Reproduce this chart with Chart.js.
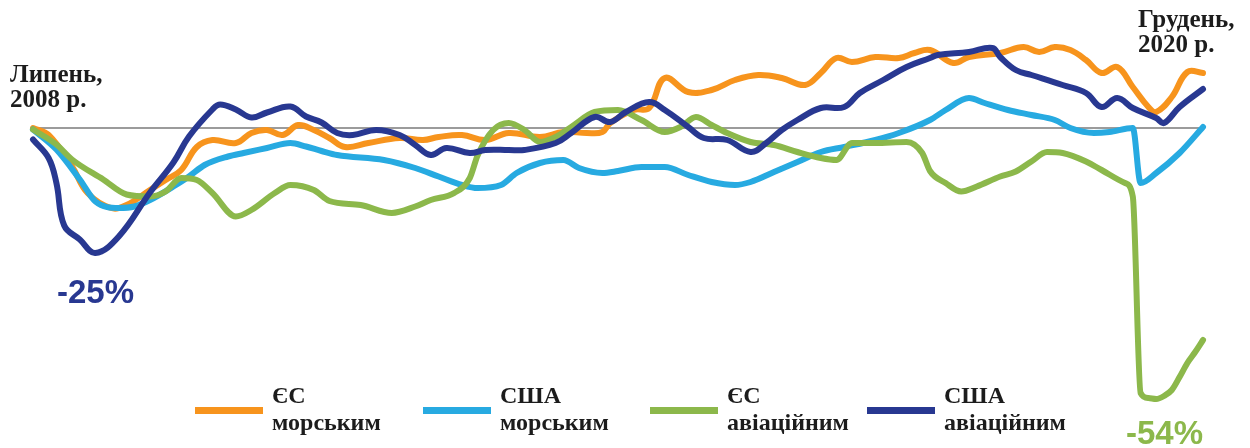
<!DOCTYPE html>
<html lang="uk">
<head>
<meta charset="utf-8">
<title>Морські та авіаційні перевезення, ЄС і США</title>
<script src="https://cdn.jsdelivr.net/npm/chart.js@4.4.1/dist/chart.umd.min.js"></script>
<style>
  html, body { margin: 0; padding: 0; background: #ffffff; }
  #wrap { width: 1250px; height: 448px; position: relative; }
</style>
</head>
<body>
<div id="wrap"><canvas id="chart" width="1250" height="448"></canvas></div>
<script>
// Month index counted from July 2008 (0) to December 2020 (150); values in % change.
const euSeaMonths = [0,2,5,7,10,12,15,17,19,21,23,26,28,30,32,34,36,38,40,43,47,50,52,55,58,61,65,68,71,73,74,77,79,81,84,87,90,93,96,99,101,103,105,108,111,113,115,118,120,124,127,129,131,133,135,137,139,141,143,144,146,148,150];
const euSeaValues = [0,-1.4,-7.7,-13,-16,-15.4,-12.4,-10.4,-8.4,-3.8,-2.4,-3,-1,-0.4,-1.4,0.6,-0.4,-2,-3.8,-3,-2,-2.4,-1.8,-1.4,-2.4,-1,-1.8,-0.8,-1,-0.8,1,3.6,4,10,7.2,7.6,9.6,10.6,10,8.6,11,14,13.2,14.2,14,15,15.6,13,14.2,15,16.2,15.2,16.2,15.6,13.6,11,12.2,8.2,4.2,3.2,6.2,11.2,11];

const usSeaMonths = [0,3,6,8,11,13,15,18,20,22,25,27,30,33,35,37,39,45,49,52,55,57,60,62,65,68,70,73,75,78,81,84,87,90,92,95,98,101,104,108,111,115,117,120,122,125,128,131,133,136,138,141,142,144,147,150];
const usSeaValues = [-0.3,-4.3,-10.3,-14.7,-16,-15.7,-14.4,-11.7,-9.7,-7.4,-5.7,-5,-4,-3,-3.7,-4.6,-5.4,-6.4,-8,-9.7,-11.4,-12,-11.4,-9,-7,-6.4,-8,-9,-8.6,-7.8,-7.8,-9.4,-10.8,-11.4,-10.8,-8.8,-6.8,-4.8,-3.8,-2.4,-1,1.6,3.6,6,5,3.6,2.6,1.6,0,-1,-0.8,0,-11,-9,-5,0.2];

const euAirMonths = [0,3,5,9,12,15,17,19,21,23,26,28,31,33,36,38,42,46,49,51,54,56,57,59,61,63,65,67,69,72,75,78,81,83,85,87,89,92,95,98,101,103,105,108,112,114,115,117,119,121,124,126,128,130,132,135,137,140,141,142,143,144,145,146,147,148,149,150];
const euAirValues = [-0.3,-3.3,-6.3,-10.3,-13.3,-13.7,-12.7,-10,-10.4,-13,-17.7,-16.4,-13,-11.4,-12.4,-14.6,-15.4,-17,-15.7,-14.4,-13,-10,-5.5,-0.4,1,-0.4,-2.8,-1.8,0.2,3.2,3.6,1.6,-0.8,0.2,2.2,0.6,-1,-2.8,-3.4,-4.8,-6,-6.4,-3,-3,-2.8,-5,-8.6,-11,-12.7,-11.7,-9.7,-8.7,-6.7,-4.8,-5,-6.7,-8.4,-11,-13.7,-53,-54,-54.2,-53.6,-52.4,-49.8,-47,-44.8,-42.4];

const usAirMonths = [0,2,3,4,6,8,11,15,18,20,23,24,26,28,30,33,35,37,39,41,44,47,49,51,53,56,58,61,63,67,69,72,74,76,79,81,84,86,89,92,94,96,98,101,104,106,109,112,115,116,120,123,124,126,128,132,135,137,139,141,144,145,147,150];
const usAirValues = [-2.3,-6,-11,-19.5,-22.3,-25,-21.7,-12.9,-6.9,-1.7,3.7,4.7,3.7,2.1,3.1,4.3,2.3,1.1,-1,-1.4,-0.4,-1.4,-3.4,-5.4,-4,-5,-4.4,-4.4,-4.4,-3,-1,2.2,1.2,3.2,5.2,3.6,0.2,-2,-2.4,-4.8,-3,-0.4,1.6,4,4.2,7,9.6,12.2,14,14.6,15.2,16,14.2,11.6,10.6,8.6,7,4.2,6,4,2,1,4.2,7.8];

const baselineMonths = [0, 150];
const baselineValues = [0, 0];

const seriesNames = ['ЄС морським', 'США морським', 'ЄС авіаційним', 'США авіаційним'];
const legendLines = [['ЄС', 'морським'], ['США', 'морським'], ['ЄС', 'авіаційним'], ['США', 'авіаційним']];
const startLabel = ['Липень,', '2008 р.'];
const endLabel = ['Грудень,', '2020 р.'];
const minLabels = ['-25%', '-54%'];

const ORANGE = '#f7941d', LIGHT_BLUE = '#27aae1', GREEN = '#8cb84b', NAVY = '#283891';

const toPoints = (xs, ys) => xs.map((x, i) => ({ x, y: ys[i] }));

// Series with abrupt breaks keep monotone curves so they do not overshoot.
const lineSet = (label, xs, ys, color, order, monotone) => ({
  label,
  data: toPoints(xs, ys),
  borderColor: color,
  backgroundColor: color,
  borderWidth: 6,
  pointRadius: 0,
  tension: 0.4,
  cubicInterpolationMode: monotone ? 'monotone' : 'default',
  borderCapStyle: 'round',
  borderJoinStyle: 'round',
  clip: false,
  order
});

// Annotations and the legend are painted straight onto the canvas.
const annotations = {
  id: 'annotations',
  afterDraw(chart) {
    const ctx = chart.ctx;
    ctx.save();
    ctx.textBaseline = 'alphabetic';
    ctx.textAlign = 'left';

    ctx.fillStyle = '#1c1c1c';
    ctx.font = 'bold 25px "Liberation Serif", "Times New Roman", serif';
    ctx.fillText(startLabel[0], 10, 82);
    ctx.fillText(startLabel[1], 10, 107);
    ctx.fillText(endLabel[0], 1138, 27);
    ctx.fillText(endLabel[1], 1138, 52);

    ctx.font = 'bold 33px "Liberation Sans", Arial, sans-serif';
    ctx.fillStyle = NAVY;
    ctx.fillText(minLabels[0], 57, 303);
    ctx.fillStyle = GREEN;
    ctx.fillText(minLabels[1], 1126, 444);

    const colors = [ORANGE, LIGHT_BLUE, GREEN, NAVY];
    const starts = [195, 423, 650, 867];
    legendLines.forEach((lines, i) => {
      const x0 = starts[i];
      ctx.fillStyle = colors[i];
      ctx.fillRect(x0, 407, 68, 7);
      ctx.fillStyle = '#1c1c1c';
      ctx.font = 'bold 24px "Liberation Serif", "Times New Roman", serif';
      ctx.fillText(lines[0], x0 + 77, 403);
      ctx.fillText(lines[1], x0 + 77, 430);
    });
    ctx.restore();
  }
};

new Chart(document.getElementById('chart'), {
  type: 'line',
  data: {
    datasets: [
      lineSet(seriesNames[3], usAirMonths, usAirValues, NAVY, 1, false),
      lineSet(seriesNames[2], euAirMonths, euAirValues, GREEN, 2, true),
      lineSet(seriesNames[1], usSeaMonths, usSeaValues, LIGHT_BLUE, 3, true),
      lineSet(seriesNames[0], euSeaMonths, euSeaValues, ORANGE, 4, false),
      {
        label: 'baseline',
        data: toPoints(baselineMonths, baselineValues),
        borderColor: '#9b9b9b',
        borderWidth: 2,
        pointRadius: 0,
        order: 5
      }
    ]
  },
  options: {
    responsive: false,
    animation: false,
    layout: { padding: { left: 33, right: 47, top: 3, bottom: 10 } },
    plugins: { legend: { display: false }, tooltip: { enabled: false } },
    scales: {
      x: { type: 'linear', min: 0, max: 150, display: false },
      y: { min: -62, max: 25, display: false }
    }
  },
  plugins: [annotations]
});
</script>
</body>
</html>
